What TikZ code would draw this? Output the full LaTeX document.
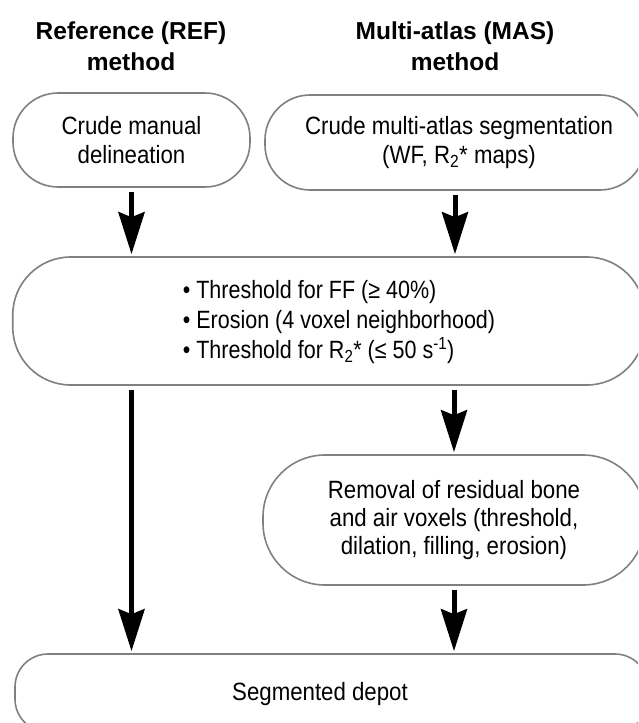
\documentclass[tikz,border=0pt]{standalone}
\usepackage{fontspec}
\setmainfont{Liberation Sans}
\newfontfamily\narrowa[FakeStretch=0.89]{Liberation Sans}
\newfontfamily\narrowb[FakeStretch=0.86]{Liberation Sans}
\usetikzlibrary{arrows.meta,calc}
\definecolor{boxgray}{HTML}{808080}
\begin{document}
\begin{tikzpicture}[x=1pt,y=-1pt,
  box/.style={draw=boxgray, line width=1.6pt, fill=white, inner sep=0pt, align=center,
              font=\narrowa\fontsize{25}{29}\selectfont},
  bodytext/.style={inner sep=0pt, align=left, font=\narrowb\fontsize{25}{30}\selectfont},
  titletext/.style={inner sep=0pt, align=center, font=\fontsize{24.5}{31}\selectfont\bfseries},
  arr/.style={line width=5pt, -{Stealth[length=42pt,width=26pt,inset=5pt]},
              shorten <=4pt, shorten >=2pt}]
\useasboundingbox (0,0) rectangle (638,723);
\clip (0,0) rectangle (638,723);

% titles
\node[titletext] (t1) at (131,46) {Reference (REF)\\method};
\node[titletext] (t2) at (455,46) {Multi-atlas (MAS)\\method};

% boxes
\node[box, minimum width=237pt, minimum height=94pt, rounded corners=45pt] (b1) at (131.5,140)
  {Crude manual\\delineation};
\node[box, minimum width=380pt, minimum height=95pt, rounded corners=45pt] (b2) at (455,142.5)
  {\hspace*{8pt}Crude multi-atlas segmentation\\\hspace*{8pt}(WF, R\textsubscript{2}* maps)};
\node[box, minimum width=632pt, minimum height=128pt, rounded corners=58pt] (b3) at (328.75,321) {};
\node[bodytext] (b3t) at (339,322)
  {• Threshold for FF (≥ 40\%)\\
   • Erosion (4 voxel neighborhood)\\
   • Threshold for R\textsubscript{2}* (≤ 50 s\textsuperscript{-1})};
\node[box, minimum width=382pt, minimum height=130pt, rounded corners=62pt, font=\narrowa\fontsize{25}{28}\selectfont] (b4) at (454,520)
  {Removal of residual bone\\and air voxels (threshold,\\dilation, filling, erosion)};
\node[box, minimum width=633pt, minimum height=78pt, rounded corners=33pt] (b5) at (331.5,693) {};
\node[bodytext, font=\narrowa\fontsize{25}{30}\selectfont] (b5t) at (320,694) {Segmented depot};

% connectors
\draw[arr] (b1.south) -- (b1.south |- b3.north);
\draw[arr] (b2.south) -- (b2.south |- b3.north);
\draw[arr] (b1.south |- b3.south) -- (b1.south |- b5.north);
\draw[arr] (b4.north |- b3.south) -- (b4.north);
\draw[arr] (b4.south) -- (b4.south |- b5.north);
\end{tikzpicture}
\end{document}
